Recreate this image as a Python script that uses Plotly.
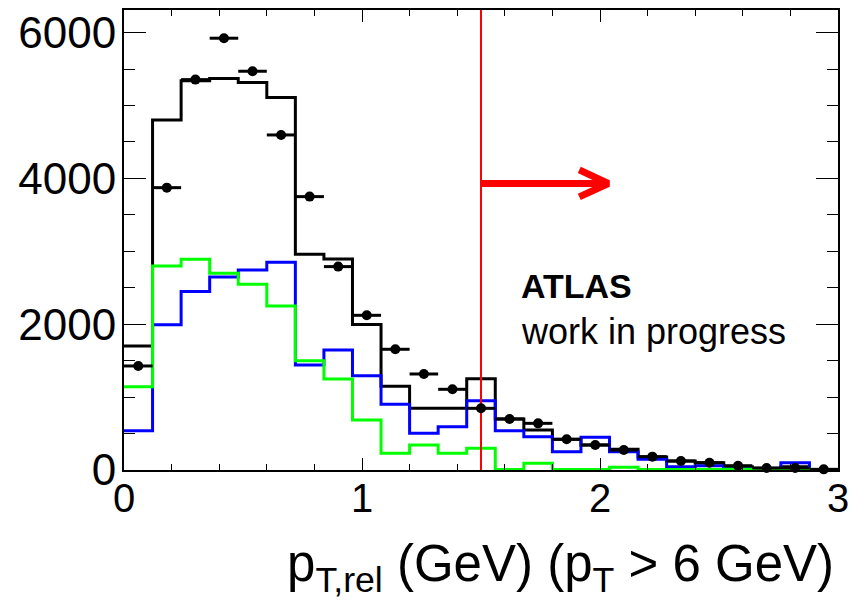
import numpy as np
import plotly.graph_objects as go

# 25 bins of 0.12 GeV between 0 and 3 GeV
bin_edges = np.round(np.linspace(0.0, 3.0, 26), 4)
bin_centers = 0.5 * (bin_edges[:-1] + bin_edges[1:])
bin_half_width = 0.06

# Data (points) and template histograms, entries per bin
data_counts = [1427, 3873, 5355, 5923, 5470, 4596, 3750, 2790, 2122, 1656,
               1317, 1107, 846, 700, 640, 421, 343, 274, 183, 123,
               100, 59, 27, 27, 9]
total_fit = [1700, 4800, 5340, 5370, 5315, 5110, 2960, 2895, 1995, 1150,
             848, 848, 1250, 700, 549, 421, 343, 284, 180, 123,
             100, 46, 23, 46, 8]
blue_template = [540, 1994, 2447, 2648, 2744, 2849, 1441, 1646, 1294, 901,
                 503, 594, 951, 540, 457, 251, 448, 251, 146, 46,
                 59, 15, 8, 100, 8]
green_template = [1143, 2799, 2891, 2699, 2548, 2250, 1500, 1249, 686, 229,
                  343, 229, 298, 8, 91, 8, 8, 37, 8, 8,
                  8, 12, 12, 10, 8]

ptrel_cut = 1.5
y_top = 6310

# arrow pointing to the accepted region (shaft + open head)
arrow_shaft_x = [1.5, 2.025]
arrow_shaft_y = [3930, 3930]
arrow_head_x = [1.913, 2.035, 1.913]
arrow_head_y = [4116, 3930, 3746]

FONT = "Liberation Sans, Arial, Helvetica, sans-serif"


def step_xy(values):
    return list(bin_edges), list(values) + [values[-1]]


fig = go.Figure()

for vals, col in [(total_fit, "#000000"), (blue_template, "#0000ff"),
                  (green_template, "#00ff00")]:
    sx, sy = step_xy(vals)
    fig.add_trace(go.Scatter(x=sx, y=sy, mode="lines", line_shape="hv",
                             line=dict(color=col, width=3),
                             showlegend=False, hoverinfo="skip"))

# cut line
fig.add_trace(go.Scatter(x=[ptrel_cut, ptrel_cut], y=[0, y_top], mode="lines",
                         line=dict(color="#ff0000", width=2),
                         showlegend=False, hoverinfo="skip"))

# data points with bin-width horizontal bars
fig.add_trace(go.Scatter(
    x=bin_centers, y=data_counts, mode="markers",
    marker=dict(color="black", size=10, symbol="circle"),
    error_x=dict(type="constant", value=bin_half_width, color="black",
                 thickness=3, width=0),
    cliponaxis=False, showlegend=False))

fig.add_trace(go.Scatter(x=arrow_shaft_x, y=arrow_shaft_y, mode="lines",
                         line=dict(color="#ff0000", width=7),
                         showlegend=False, hoverinfo="skip"))
fig.add_trace(go.Scatter(x=arrow_head_x, y=arrow_head_y, mode="lines",
                         line=dict(color="#ff0000", width=7),
                         showlegend=False, hoverinfo="skip"))

fig.update_layout(
    width=852, height=600,
    margin=dict(l=124, r=14, t=10, b=130),
    paper_bgcolor="white", plot_bgcolor="white",
    font=dict(family=FONT, color="black"),
    xaxis=dict(range=[0, 3], tick0=0, dtick=1, ticks="inside", ticklen=12,
               tickwidth=1, tickcolor="black", showline=True, linewidth=2,
               linecolor="black", mirror="allticks", showgrid=False,
               zeroline=False, automargin=False, ticklabelstandoff=-8,
               tickfont=dict(family=FONT, size=40),
               minor=dict(dtick=0.2, tick0=0, ticks="inside", ticklen=6,
                          tickwidth=1, tickcolor="black", showgrid=False)),
    yaxis=dict(range=[0, y_top], tick0=0, dtick=2000, ticks="inside",
               ticklen=22, tickwidth=1, tickcolor="black", showline=True,
               linewidth=2, linecolor="black", mirror="allticks",
               showgrid=False, zeroline=False, automargin=False,
               ticklabelstandoff=-3,
               tickfont=dict(family=FONT, size=44),
               minor=dict(dtick=500, tick0=0, ticks="inside", ticklen=11,
                          tickwidth=1, tickcolor="black", showgrid=False)),
    annotations=[
        dict(text="<b>ATLAS</b>", xref="paper", yref="paper", x=0.553,
             y=0.400, xanchor="left", yanchor="middle", showarrow=False,
             font=dict(family=FONT, size=34, color="black")),
        dict(text="work in progress", xref="paper", yref="paper", x=0.553,
             y=0.302, xanchor="left", yanchor="middle", showarrow=False,
             font=dict(family=FONT, size=36, color="black")),
        dict(text="p<sub>T,rel</sub> (GeV) (p<sub>T</sub> > 6 GeV)",
             xref="paper", yref="paper", x=0.997, y=-0.213,
             xanchor="right", yanchor="middle", showarrow=False,
             font=dict(family=FONT, size=51, color="black")),
    ],
)

fig.write_html("out.html")
